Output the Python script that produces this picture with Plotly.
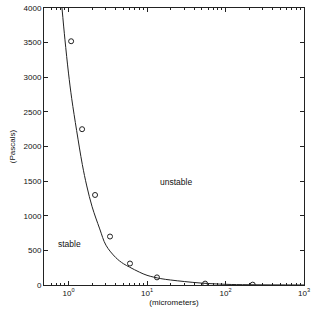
import math
import plotly.graph_objects as go

# measured points (micrometers, Pascals)
pt_x = [1.08, 1.49, 2.18, 3.38, 6.07, 13.4, 55, 222]
pt_y = [3520, 2250, 1300, 700, 310, 110, 20, 5]

# fitted curve
curve_x = [0.826, 0.9, 1.0, 1.1, 1.27, 1.5, 1.71, 2.0, 2.5, 3.0, 4.0, 5.0, 6.0, 8.0, 10, 15, 20, 30, 50, 100, 200, 1000]
curve_y = [4000, 3550, 3060, 2690, 2230, 1740, 1430, 1130, 810, 575, 396, 308, 258, 186, 140, 92, 72, 50, 27, 10, 4, 0.5]

x_tickvals = [1, 10, 100, 1000]
x_ticktext = ["10<sup>0</sup>", "10<sup>1</sup>", "10<sup>2</sup>", "10<sup>3</sup>"]
x_minor = [0.5, 0.6, 0.7, 0.8, 0.9] + [2, 3, 4, 5, 6, 7, 8, 9] + [20, 30, 40, 50, 60, 70, 80, 90] + [200, 300, 400, 500, 600, 700, 800, 900]
y_tickvals = [0, 500, 1000, 1500, 2000, 2500, 3000, 3500, 4000]

labels = ["unstable", "stable"]
label_x = [23.6, 1.04]
label_y = [1490, 594]

fig = go.Figure()
fig.add_trace(go.Scatter(x=curve_x, y=curve_y, mode="lines", line=dict(color="#222", width=1, shape="spline"),
                         showlegend=False, hoverinfo="skip"))
fig.add_trace(go.Scatter(x=pt_x, y=pt_y, mode="markers",
                         marker=dict(symbol="circle-open", size=5, color="#222", line=dict(width=1)),
                         showlegend=False))
for t, xx, yy in zip(labels, label_x, label_y):
    fig.add_annotation(x=math.log10(xx), y=yy, text=t, showarrow=False,
                       font=dict(size=8.5, color="#111"))

fig.update_layout(
    width=312, height=312,
    margin=dict(l=44, r=8, t=8, b=27, autoexpand=False),
    paper_bgcolor="white", plot_bgcolor="white",
    font=dict(family="Liberation Sans, Arial, sans-serif", size=8, color="#111"),
    xaxis=dict(type="log", range=[-0.312, 3], tickmode="array", tickvals=x_tickvals, ticktext=x_ticktext,
               ticks="inside", ticklen=4, tickcolor="#222", showline=True, linecolor="#222", linewidth=1,
               mirror="ticks", showgrid=False, zeroline=False, automargin=False,
               minor=dict(tickmode="array", tickvals=x_minor, ticks="inside", ticklen=2, tickcolor="#222", showgrid=False),
               title=dict(text="(micrometers)", standoff=2, font=dict(size=8))),
    yaxis=dict(range=[0, 4000], tickmode="array", tickvals=y_tickvals,
               ticks="inside", ticklen=4, tickcolor="#222", showline=True, linecolor="#222", linewidth=1,
               mirror="ticks", showgrid=False, zeroline=False, automargin=False,
               title=dict(text="(Pascals)", standoff=6, font=dict(size=8))),
)
fig.write_html("out.html", config={"displayModeBar": False},
               post_script="document.body.style.margin='0';document.body.style.overflow='hidden';")
